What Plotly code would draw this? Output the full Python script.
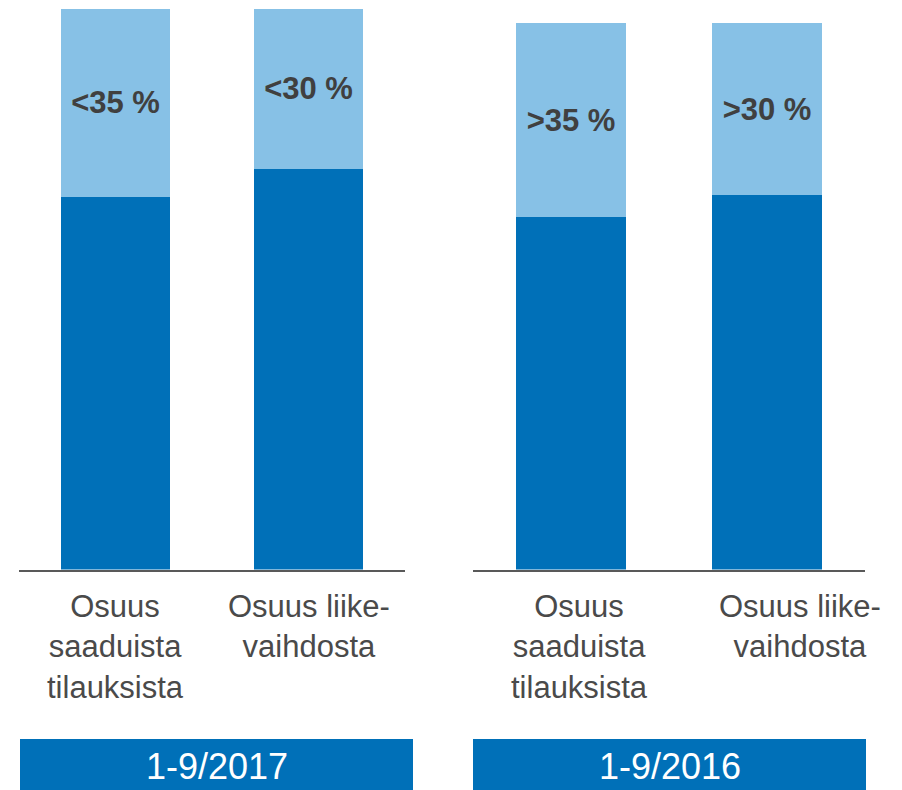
import plotly.graph_objects as go

# page has an 8px body margin, so the figure is drawn 8px in from the corner
OFF = 8
W, H = 902 - OFF, 790 - OFF

categories = ["Osuus<br>saaduista<br>tilauksista", "Osuus liike-<br>vaihdosta"]
periods = ["1-9/2017", "1-9/2016"]

# share values (%), dark = remaining share, light = share shown with label
dark_2017 = [66.5, 71.5]
light_2017 = [33.5, 28.5]
labels_2017 = ["&lt;35 %", "&lt;30 %"]

dark_2016 = [64.5, 68.5]
light_2016 = [35.5, 31.5]
labels_2016 = ["&gt;35 %", "&gt;30 %"]

DARK = "#0070B8"
LIGHT = "#87C1E6"
TXT = "#404040"
FONT = "Liberation Sans, Arial, sans-serif"

cat_ids = ["a", "b"]

fig = go.Figure()

def add_panel(xa, ya, dark, light, labels):
    fig.add_trace(go.Bar(x=cat_ids, y=dark, marker=dict(color=DARK, line=dict(width=0)),
                         xaxis=xa, yaxis=ya, hoverinfo="skip", showlegend=False))
    fig.add_trace(go.Bar(x=cat_ids, y=light, marker=dict(color=LIGHT, line=dict(width=0)),
                         text=labels, texttemplate="%{text}", textposition="inside",
                         insidetextanchor="middle", textangle=0,
                         textfont=dict(family=FONT, size=31, color=TXT, weight="bold"),
                         xaxis=xa, yaxis=ya, hoverinfo="skip", showlegend=False))

add_panel("x", "y", dark_2017, light_2017, labels_2017)
add_panel("x2", "y2", dark_2016, light_2016, labels_2016)

def px_x(p):
    return (p - OFF) / W

def px_y(p):
    return 1 - (p - OFF) / H

axis_common = dict(showgrid=False, zeroline=False, showticklabels=False, ticks="",
                   fixedrange=True)

fig.update_layout(
    width=W, height=H,
    margin=dict(l=0, r=0, t=0, b=0),
    paper_bgcolor="white", plot_bgcolor="white",
    barmode="stack", bargap=0.44,
    xaxis=dict(domain=[px_x(19), px_x(405)], anchor="y", type="category",
               range=[-0.5, 1.5], autorange=False,
               showline=True, linecolor="#595959", linewidth=2, **axis_common),
    yaxis=dict(domain=[px_y(569.5), px_y(9)], anchor="x", range=[0, 100],
               showline=False, **axis_common),
    xaxis2=dict(domain=[px_x(473), px_x(865)], anchor="y2", type="category",
                range=[-0.5, 1.5], autorange=False,
                showline=True, linecolor="#595959", linewidth=2, **axis_common),
    yaxis2=dict(domain=[px_y(569.5), px_y(23)], anchor="x2", range=[0, 100],
                showline=False, **axis_common),
    font=dict(family=FONT),
)

# category labels under the bars
shifts = {"x": [0, 0], "x2": [8, 33]}
for xa in ["x", "x2"]:
    for i, c in enumerate(categories):
        fig.add_annotation(x=cat_ids[i], xref=xa, y=px_y(587), yref="paper",
                           text=c, showarrow=False, xanchor="center", yanchor="top",
                           xshift=shifts[xa][i], align="center",
                           font=dict(family=FONT, size=31, color="#4a4a4a"))

# period boxes
boxes = [(20, 413), (473, 866)]
for (x0, x1), p in zip(boxes, periods):
    fig.add_shape(type="rect", xref="paper", yref="paper",
                  x0=px_x(x0), x1=px_x(x1), y0=0, y1=px_y(739),
                  fillcolor=DARK, line=dict(width=0), layer="below")
    fig.add_annotation(x=px_x((x0 + x1) / 2), y=px_y(766), xref="paper", yref="paper",
                       text=p, showarrow=False, xanchor="center", yanchor="middle",
                       font=dict(family=FONT, size=36, color="white"))

fig.write_html("out.html", config={"displayModeBar": False})
